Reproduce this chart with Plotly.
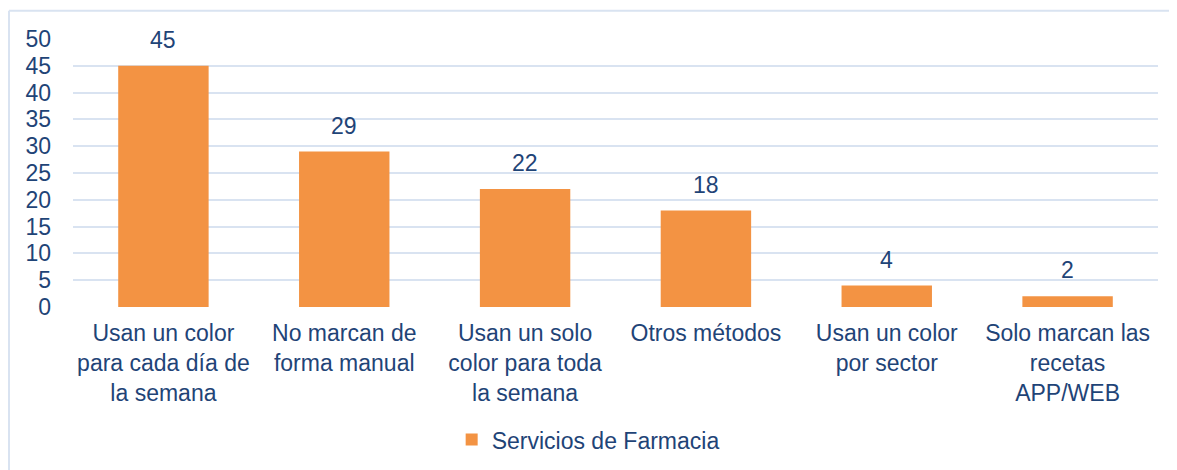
import plotly.graph_objects as go

categories = [
    "Usan un color<br>para cada día de<br>la semana",
    "No marcan de<br>forma manual",
    "Usan un solo<br>color para toda<br>la semana",
    "Otros métodos",
    "Usan un color<br>por sector",
    "Solo marcan las<br>recetas<br>APP/WEB",
]
values = [45, 29, 22, 18, 4, 2]
series_name = "Servicios de Farmacia"
y_ticks = [0, 5, 10, 15, 20, 25, 30, 35, 40, 45, 50]

TEXT = "#1F4477"
GRID = "#D9E3F1"
FONT = "Arial, Liberation Sans, sans-serif"

fig = go.Figure()
fig.add_trace(go.Bar(
    x=categories, y=values, name=series_name,
    marker=dict(color="#F39343", line=dict(width=0)),
))

# value labels sit a little above each bar
for cat, val in zip(categories, values):
    fig.add_annotation(x=cat, y=val, text=str(val), showarrow=False,
                       yanchor="bottom", yshift=11,
                       font=dict(size=23, color=TEXT, family=FONT))

fig.update_layout(
    width=1169, height=462,
    paper_bgcolor="white", plot_bgcolor="white",
    margin=dict(l=65, r=19, t=31, b=163, autoexpand=False),
    bargap=0.5,
    font=dict(family=FONT, size=23, color=TEXT),
    showlegend=True,
    legend=dict(
        orientation="h", x=0.349, xanchor="left", y=-0.495, yanchor="middle",
        font=dict(size=23, color=TEXT), bgcolor="rgba(0,0,0,0)",
    ),
    xaxis=dict(showgrid=False, zeroline=False, showline=False, ticks="",
               ticklabelstandoff=10, tickfont=dict(size=23, color=TEXT)),
    yaxis=dict(range=[0, 50], tickvals=y_ticks, showgrid=True, gridcolor=GRID,
               gridwidth=2, zeroline=False, showline=False, ticks="",
               ticklabelstandoff=21, tickfont=dict(size=23, color=TEXT)),
    shapes=[
        dict(type="line", xref="paper", yref="paper", x0=-0.059, x1=-0.059,
             y0=-0.65, y1=1.105, line=dict(color=GRID, width=2)),
        dict(type="line", xref="paper", yref="paper", x0=-0.059, x1=1.03,
             y0=1.105, y1=1.105, line=dict(color=GRID, width=2)),
    ],
)

fig.write_html("out.html")
